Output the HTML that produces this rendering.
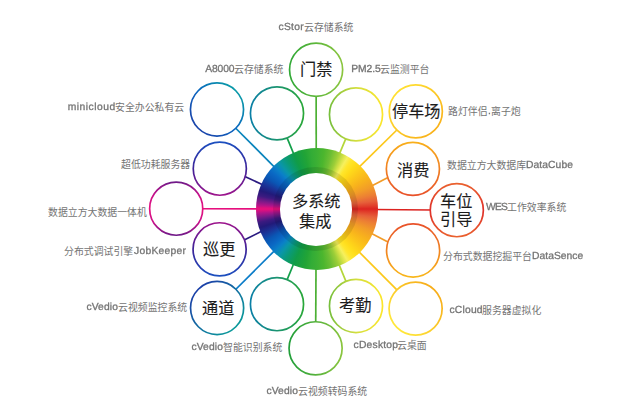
<!DOCTYPE html>
<html lang="zh"><head><meta charset="utf-8"><title>多系统集成</title>
<style>
html,body{margin:0;padding:0;background:#fff}
body{width:620px;height:420px;overflow:hidden;font-family:"Liberation Sans",sans-serif}
#stage{position:relative;width:620px;height:420px;background:#fff;overflow:hidden}
#sat{position:absolute;left:0;top:0}
#ring{position:absolute;left:255.7px;top:147.95px;width:122.2px;height:122.2px;border-radius:50%;background:conic-gradient(from 0deg at 50% 50%, #3cb034 0deg, #4cb62e 7deg, #6cbe34 14deg, #9cce38 21deg, #d4e246 26.5deg, #f6f05e 30.5deg, #ffe62c 35deg, #ffdc1a 41deg, #fcc61a 50deg, #f8b21c 59deg, #f29c28 68deg, #ec7e34 76deg, #e6603a 82deg, #e03c2a 87deg, #dc2320 90deg, #e03c2a 93deg, #e6603a 98deg, #ec7e34 104deg, #f29c28 112deg, #f8b21c 121deg, #fcc61a 130deg, #ffdc1a 139deg, #ffe62c 145deg, #f6f05e 149.5deg, #d4e246 153.5deg, #9cce38 159deg, #6cbe34 166deg, #4cb62e 173deg, #3cb034 180deg, #32ac36 186deg, #22a436 192deg, #109c48 203deg, #0a9a78 212deg, #0a96a8 219deg, #0a80c8 225deg, #0a68c4 231deg, #0a56b4 238deg, #1a3498 245deg, #221a7a 252deg, #3c1a80 257deg, #7a1a88 262deg, #b0148a 266deg, #e0107e 269deg, #e6107e 270deg, #e0107e 271deg, #b0148a 274deg, #7a1a88 278deg, #3c1a80 283deg, #221a7a 288deg, #1a3498 295deg, #0a56b4 302deg, #0a68c4 309deg, #0a80c8 315deg, #0a96a8 321deg, #0a9a78 328deg, #109c48 337deg, #22a436 348deg, #32ac36 354deg, #3cb034 360deg)}
#bevel{position:absolute;left:273.15px;top:166.6px;width:84.9px;height:84.9px;border-radius:50%;background:rgba(0,0,0,0.1)}
#hole{position:absolute;left:279.6px;top:173.15px;width:72.6px;height:72.6px;border-radius:50%;background:#fff}
.big{position:absolute;overflow:visible}
.big text{font-family:"Liberation Sans","Noto Sans CJK SC",sans-serif;font-size:16.2px;fill:#1c1c1c;stroke:#1c1c1c;stroke-width:0.1px}
.lbl{position:absolute;height:14px;line-height:14px;font-size:10.3px;color:#747474;white-space:nowrap;display:flex;align-items:flex-start}
.lbl span{display:block;height:14px;-webkit-text-stroke:0.3px #747474;will-change:transform;text-rendering:geometricPrecision}
.lbl svg{display:block;height:14px;overflow:visible;flex:none}
.lbl svg text{font-family:"Liberation Sans","Noto Sans CJK SC",sans-serif;font-size:9.9px;fill:#747474}
</style></head><body>
<div id="stage">
<svg id="sat" width="620" height="420" viewBox="0 0 620 420">
<defs>
<linearGradient id="c1" gradientUnits="userSpaceOnUse" x1="288.7" y1="69.75" x2="343.5" y2="69.75"><stop offset="0" stop-color="#2fa836"/><stop offset="1" stop-color="#8cc63f"/></linearGradient>
<linearGradient id="c2" gradientUnits="userSpaceOnUse" x1="328.6" y1="114.4" x2="383.4" y2="114.4"><stop offset="0" stop-color="#74be3c"/><stop offset="0.5" stop-color="#d2de3e"/><stop offset="1" stop-color="#fde62b"/></linearGradient>
<linearGradient id="c3" gradientUnits="userSpaceOnUse" x1="396.43" y1="92.03" x2="435.17" y2="130.77"><stop offset="0" stop-color="#ffe032"/><stop offset="1" stop-color="#f9b21a"/></linearGradient>
<linearGradient id="c4" gradientUnits="userSpaceOnUse" x1="412.9" y1="141.5" x2="412.9" y2="196.3"><stop offset="0" stop-color="#f9b01a"/><stop offset="1" stop-color="#e8502a"/></linearGradient>
<linearGradient id="c5" gradientUnits="userSpaceOnUse" x1="456.8" y1="182.8" x2="456.8" y2="237.6"><stop offset="0" stop-color="#ea622e"/><stop offset="0.5" stop-color="#df2f2a"/><stop offset="1" stop-color="#ea622e"/></linearGradient>
<linearGradient id="c6" gradientUnits="userSpaceOnUse" x1="413.1" y1="223.1" x2="413.1" y2="277.9"><stop offset="0" stop-color="#e8502a"/><stop offset="1" stop-color="#f9b81a"/></linearGradient>
<linearGradient id="c7" gradientUnits="userSpaceOnUse" x1="434.97" y1="289.23" x2="396.23" y2="327.97"><stop offset="0" stop-color="#f7ad1a"/><stop offset="1" stop-color="#ffe83a"/></linearGradient>
<linearGradient id="c8" gradientUnits="userSpaceOnUse" x1="328.6" y1="306" x2="383.4" y2="306"><stop offset="0" stop-color="#74be3c"/><stop offset="0.5" stop-color="#d2de3e"/><stop offset="1" stop-color="#fde62b"/></linearGradient>
<linearGradient id="c9" gradientUnits="userSpaceOnUse" x1="288.2" y1="348.3" x2="343" y2="348.3"><stop offset="0" stop-color="#1f9e3a"/><stop offset="1" stop-color="#8cc63f"/></linearGradient>
<linearGradient id="c10" gradientUnits="userSpaceOnUse" x1="249.6" y1="304.2" x2="304.4" y2="304.2"><stop offset="0" stop-color="#0a7fa8"/><stop offset="1" stop-color="#2aa838"/></linearGradient>
<linearGradient id="c11" gradientUnits="userSpaceOnUse" x1="197.73" y1="288.63" x2="236.47" y2="327.37"><stop offset="0" stop-color="#1b3fa8"/><stop offset="1" stop-color="#0a9a9a"/></linearGradient>
<linearGradient id="c12" gradientUnits="userSpaceOnUse" x1="219.6" y1="221.9" x2="219.6" y2="276.7"><stop offset="0" stop-color="#a0148c"/><stop offset="0.5" stop-color="#3c2298"/><stop offset="1" stop-color="#1a50c0"/></linearGradient>
<linearGradient id="c13" gradientUnits="userSpaceOnUse" x1="176.2" y1="181.3" x2="176.2" y2="236.1"><stop offset="0" stop-color="#6a1a88"/><stop offset="0.25" stop-color="#c8108a"/><stop offset="0.5" stop-color="#e6107e"/><stop offset="0.75" stop-color="#c8108a"/><stop offset="1" stop-color="#6a1a88"/></linearGradient>
<linearGradient id="c14" gradientUnits="userSpaceOnUse" x1="219.8" y1="141.3" x2="219.8" y2="196.1"><stop offset="0" stop-color="#1a50c0"/><stop offset="0.5" stop-color="#3c2298"/><stop offset="1" stop-color="#a0148c"/></linearGradient>
<linearGradient id="c15" gradientUnits="userSpaceOnUse" x1="236.37" y1="90.13" x2="197.63" y2="128.87"><stop offset="0" stop-color="#0a9aa8"/><stop offset="0.5" stop-color="#0a66c0"/><stop offset="1" stop-color="#1b44aa"/></linearGradient>
<linearGradient id="c16" gradientUnits="userSpaceOnUse" x1="249.6" y1="113.35" x2="304.4" y2="113.35"><stop offset="0" stop-color="#0a7fa8"/><stop offset="1" stop-color="#2aa838"/></linearGradient>
</defs>
<g stroke-width="1.7" fill="none">
<line x1="316.22" y1="151.9" x2="316.14" y2="94.15" stroke="#4cb034"/>
<line x1="338.4" y1="156.35" x2="346.56" y2="136.9" stroke="#b4d63a"/>
<line x1="357.06" y1="169.02" x2="398.38" y2="128.49" stroke="#fcc81a"/>
<line x1="369.15" y1="187.34" x2="389.86" y2="176.62" stroke="#f29c28"/>
<line x1="373.4" y1="209.49" x2="432.4" y2="209.99" stroke="#dc2320"/>
<line x1="369.15" y1="232.26" x2="389.86" y2="242.98" stroke="#f29c28"/>
<line x1="356.61" y1="249.44" x2="398.37" y2="291.32" stroke="#fcc81a"/>
<line x1="337.93" y1="261.85" x2="346.76" y2="283.42" stroke="#b4d63a"/>
<line x1="316.01" y1="266.1" x2="315.72" y2="323.9" stroke="#4cb034"/>
<line x1="294.51" y1="261.78" x2="286.31" y2="281.65" stroke="#14a04a"/>
<line x1="275.88" y1="249.34" x2="234.37" y2="290.76" stroke="#0a7cc8"/>
<line x1="263.66" y1="230.18" x2="242.73" y2="240.86" stroke="#2a1a80"/>
<line x1="259.2" y1="208.88" x2="200.6" y2="208.75" stroke="#e6107e"/>
<line x1="264.32" y1="185.6" x2="242.69" y2="175.42" stroke="#2a1a80"/>
<line x1="275.96" y1="168.58" x2="234.24" y2="126.77" stroke="#0a84bc"/>
<line x1="294.6" y1="156.18" x2="286.27" y2="135.92" stroke="#14a04a"/>
</g>
<g stroke-width="1.7" fill="#fff">
<circle cx="316.1" cy="69.75" r="26.55" stroke="url(#c1)"/>
<circle cx="356" cy="114.4" r="26.55" stroke="url(#c2)"/>
<circle cx="415.8" cy="111.4" r="26.55" stroke="url(#c3)"/>
<circle cx="412.9" cy="168.9" r="26.55" stroke="url(#c4)"/>
<circle cx="456.8" cy="210.2" r="26.55" stroke="url(#c5)"/>
<circle cx="413.1" cy="250.5" r="26.55" stroke="url(#c6)"/>
<circle cx="415.6" cy="308.6" r="26.55" stroke="url(#c7)"/>
<circle cx="356" cy="306" r="26.55" stroke="url(#c8)"/>
<circle cx="315.6" cy="348.3" r="26.55" stroke="url(#c9)"/>
<circle cx="277" cy="304.2" r="26.55" stroke="url(#c10)"/>
<circle cx="217.1" cy="308" r="26.55" stroke="url(#c11)"/>
<circle cx="219.6" cy="249.3" r="26.55" stroke="url(#c12)"/>
<circle cx="176.2" cy="208.7" r="26.55" stroke="url(#c13)"/>
<circle cx="219.8" cy="168.7" r="26.55" stroke="url(#c14)"/>
<circle cx="217" cy="109.5" r="26.55" stroke="url(#c15)"/>
<circle cx="277" cy="113.35" r="26.55" stroke="url(#c16)"/>
</g>
</svg>
<div id="ring"></div><div id="bevel"></div><div id="hole"></div>
<svg class="big" role="img" aria-label="门禁" style="left:300.2px;top:58.81px" width="32.4" height="16.2"><title>门禁</title><text x="0" y="16.2">门禁</text></svg>
<svg class="big" role="img" aria-label="停车场" style="left:392.2px;top:100.76px" width="48.6" height="16.2"><title>停车场</title><text x="0" y="16.2">停车场</text></svg>
<svg class="big" role="img" aria-label="消费" style="left:396.8px;top:159.76px" width="32.4" height="16.2"><title>消费</title><text x="0" y="16.2">消费</text></svg>
<svg class="big" role="img" aria-label="车位" style="left:439.9px;top:190.56px" width="32.4" height="16.2"><title>车位</title><text x="0" y="16.2">车位</text></svg>
<svg class="big" role="img" aria-label="引导" style="left:439.9px;top:209.06px" width="32.4" height="16.2"><title>引导</title><text x="0" y="16.2">引导</text></svg>
<svg class="big" role="img" aria-label="考勤" style="left:339.4px;top:294.66px" width="32.4" height="16.2"><title>考勤</title><text x="0" y="16.2">考勤</text></svg>
<svg class="big" role="img" aria-label="通道" style="left:201.95px;top:297.76px" width="32.4" height="16.2"><title>通道</title><text x="0" y="16.2">通道</text></svg>
<svg class="big" role="img" aria-label="巡更" style="left:203.2px;top:238.71px" width="32.4" height="16.2"><title>巡更</title><text x="0" y="16.2">巡更</text></svg>
<svg class="big" role="img" aria-label="多系统" style="left:292.1px;top:190.86px" width="48.6" height="16.2"><title>多系统</title><text x="0" y="16.2">多系统</text></svg>
<svg class="big" role="img" aria-label="集成" style="left:298.9px;top:211.06px" width="32.4" height="16.2"><title>集成</title><text x="0" y="16.2">集成</text></svg>
<div class="lbl" style="left:278.3px;top:21.16px;width:74.95px"><span style="width:25.45px;letter-spacing:0.28px;text-indent:0.54px">cStor</span><svg role="img" aria-label="云存储系统" width="49.5" height="14"><title>云存储系统</title><text x="0" y="10">云存储系统</text></svg></div>
<div class="lbl" style="left:204.88px;top:62.96px;width:78.52px"><span style="width:29.02px;letter-spacing:-0.15px;text-indent:0.32px">A8000</span><svg role="img" aria-label="云存储系统" width="49.5" height="14"><title>云存储系统</title><text x="0" y="10">云存储系统</text></svg></div>
<div class="lbl" style="left:351px;top:63.36px;width:78.66px"><span style="width:29.16px;letter-spacing:-0.12px;text-indent:0.34px">PM2.5</span><svg role="img" aria-label="云监测平台" width="49.5" height="14"><title>云监测平台</title><text x="0" y="10">云监测平台</text></svg></div>
<div class="lbl" style="left:67.27px;top:101.26px;width:117.53px"><span style="width:48.23px;letter-spacing:0.52px;text-indent:0.66px">minicloud</span><svg role="img" aria-label="安全办公私有云" width="69.3" height="14"><title>安全办公私有云</title><text x="0" y="10">安全办公私有云</text></svg></div>
<div class="lbl" style="left:448.1px;top:105.36px;width:72.28px"><svg role="img" aria-label="路灯伴侣" width="39.6" height="14"><title>路灯伴侣</title><text x="0" y="10">路灯伴侣</text></svg><span style="width:2.98px;letter-spacing:0.12px;text-indent:0.06px">.</span><svg role="img" aria-label="离子炮" width="29.7" height="14"><title>离子炮</title><text x="0" y="10">离子炮</text></svg></div>
<div class="lbl" style="left:120.5px;top:157.96px;width:69.3px"><svg role="img" aria-label="超低功耗服务器" width="69.3" height="14"><title>超低功耗服务器</title><text x="0" y="10">超低功耗服务器</text></svg></div>
<div class="lbl" style="left:446.7px;top:159.06px;width:126.26px"><svg role="img" aria-label="数据立方大数据库" width="79.2" height="14"><title>数据立方大数据库</title><text x="0" y="10">数据立方大数据库</text></svg><span style="width:47.06px;letter-spacing:0.08px;text-indent:0.04px">DataCube</span></div>
<div class="lbl" style="left:47.9px;top:205.56px;width:99px"><svg role="img" aria-label="数据立方大数据一体机" width="99" height="14"><title>数据立方大数据一体机</title><text x="0" y="10">数据立方大数据一体机</text></svg></div>
<div class="lbl" style="left:486.2px;top:200.76px;width:80.42px"><span style="width:21.02px;letter-spacing:-0.81px;text-indent:-0.01px">WES</span><svg role="img" aria-label="工作效率系统" width="59.4" height="14"><title>工作效率系统</title><text x="0" y="10">工作效率系统</text></svg></div>
<div class="lbl" style="left:64.26px;top:244.76px;width:121.24px"><svg role="img" aria-label="分布式调试引擎" width="69.3" height="14"><title>分布式调试引擎</title><text x="0" y="10">分布式调试引擎</text></svg><span style="width:51.94px;letter-spacing:0.24px;text-indent:0.12px">JobKeeper</span></div>
<div class="lbl" style="left:442.9px;top:250.26px;width:140.36px"><svg role="img" aria-label="分布式数据挖掘平台" width="89.1" height="14"><title>分布式数据挖掘平台</title><text x="0" y="10">分布式数据挖掘平台</text></svg><span style="width:51.26px;letter-spacing:0.03px;text-indent:0.02px">DataSence</span></div>
<div class="lbl" style="left:85.5px;top:301.26px;width:101.4px"><span style="width:32.1px;letter-spacing:0.1px;text-indent:0.45px">cVedio</span><svg role="img" aria-label="云视频监控系统" width="69.3" height="14"><title>云视频监控系统</title><text x="0" y="10">云视频监控系统</text></svg></div>
<div class="lbl" style="left:448.6px;top:304.36px;width:92.66px"><span style="width:33.26px;letter-spacing:0.2px;text-indent:0.5px">cCloud</span><svg role="img" aria-label="服务器虚拟化" width="59.4" height="14"><title>服务器虚拟化</title><text x="0" y="10">服务器虚拟化</text></svg></div>
<div class="lbl" style="left:191.2px;top:341.06px;width:91.5px"><span style="width:32.1px;letter-spacing:0.1px;text-indent:0.45px">cVedio</span><svg role="img" aria-label="智能识别系统" width="59.4" height="14"><title>智能识别系统</title><text x="0" y="10">智能识别系统</text></svg></div>
<div class="lbl" style="left:352.5px;top:339.36px;width:74.48px"><span style="width:44.78px;letter-spacing:0.23px;text-indent:0.52px">cDesktop</span><svg role="img" aria-label="云桌面" width="29.7" height="14"><title>云桌面</title><text x="0" y="10">云桌面</text></svg></div>
<div class="lbl" style="left:265.5px;top:385.46px;width:101.4px"><span style="width:32.1px;letter-spacing:0.1px;text-indent:0.45px">cVedio</span><svg role="img" aria-label="云视频转码系统" width="69.3" height="14"><title>云视频转码系统</title><text x="0" y="10">云视频转码系统</text></svg></div>
</div>
</body></html>
